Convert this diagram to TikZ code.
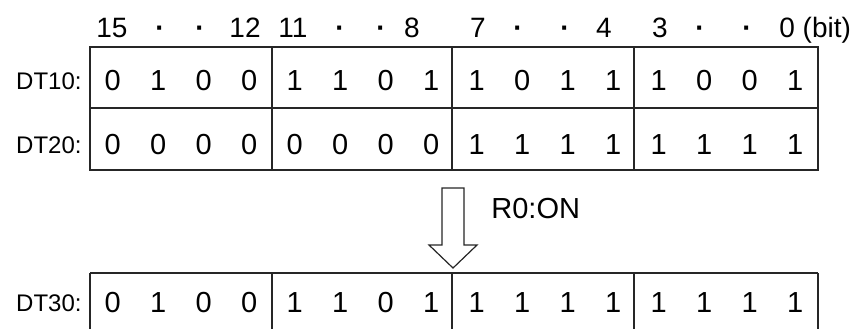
\documentclass[tikz,border=0pt]{standalone}
\usepackage{fontspec}
\setmainfont{Liberation Sans}
\usetikzlibrary{positioning}

\begin{document}
\begin{tikzpicture}[x=0.5pt, y=-0.5pt,
			bitval/.style={inner sep=0pt, font=\fontsize{14.5}{16}\selectfont},
			bitno/.style={inner sep=0pt, anchor=base, font=\fontsize{14}{16}\selectfont},
			reglabel/.style={inner sep=0pt, anchor=east, font=\fontsize{12}{14}\selectfont},
			frame/.style={line width=0.6pt, draw=black!85},
			]
			\useasboundingbox (0,0) rectangle (860,329);
			% Bit numbers
			\foreach \x/\t [count=\k] in {112/15, 160/{\bfseries ·}, 200/{\bfseries ·}, 245/12, 293/11,
				340/{\bfseries ·}, 381/{\bfseries ·}, 412/8, 478/7, 518/{\bfseries ·}, 565/{\bfseries ·},
				604/4, 660/3, 700/{\bfseries ·}, 747/{\bfseries ·}}
				\node[bitno] (h\k) at (\x,37.5) {\t};
			\node[bitno, anchor=base west] (h16) at (779,37.5) {0 (bit)};
			
			% Source registers
			\draw[frame] (90,47) rectangle (818,170);
			\draw[frame] (90,108) -- (818,108);
			\foreach \x in {272,452,634}
				\draw[frame] (\x,47) -- (\x,170);
			% Result register
			\draw[frame] (90,273) -- (818,273);
			\foreach \x in {90,272,452,634,818}
				\draw[frame] (\x,273) -- (\x,329);
			
			% Register names
			\node[reglabel] (lab10) at (82,81) {DT10:};
			\node[reglabel] (lab20) at (82,145) {DT20:};
			\node[reglabel] (lab30) at (82,303) {DT30:};
			
			% Bit values
			\foreach \r/\y/\bits in {10/81/{0,1,0,0,1,1,0,1,1,0,1,1,1,0,0,1},
				20/145/{0,0,0,0,0,0,0,0,1,1,1,1,1,1,1,1},
				30/303/{0,1,0,0,1,1,0,1,1,1,1,1,1,1,1,1}}
				\foreach \b [count=\i from 0] in \bits
					\node[bitval] (d\r-\i) at ({90+45.5*(\i+0.5)},\y) {\b};
			
			% Operation arrow
			\draw[frame, fill=white] (442,188) -- (464,188) -- (464,245) -- (477,245)
				-- (453,268) -- (429,245) -- (442,245) -- cycle;
			\node[bitval, anchor=west] (cond) at (491,209) {R0:ON};
		\end{tikzpicture}
\end{document}
